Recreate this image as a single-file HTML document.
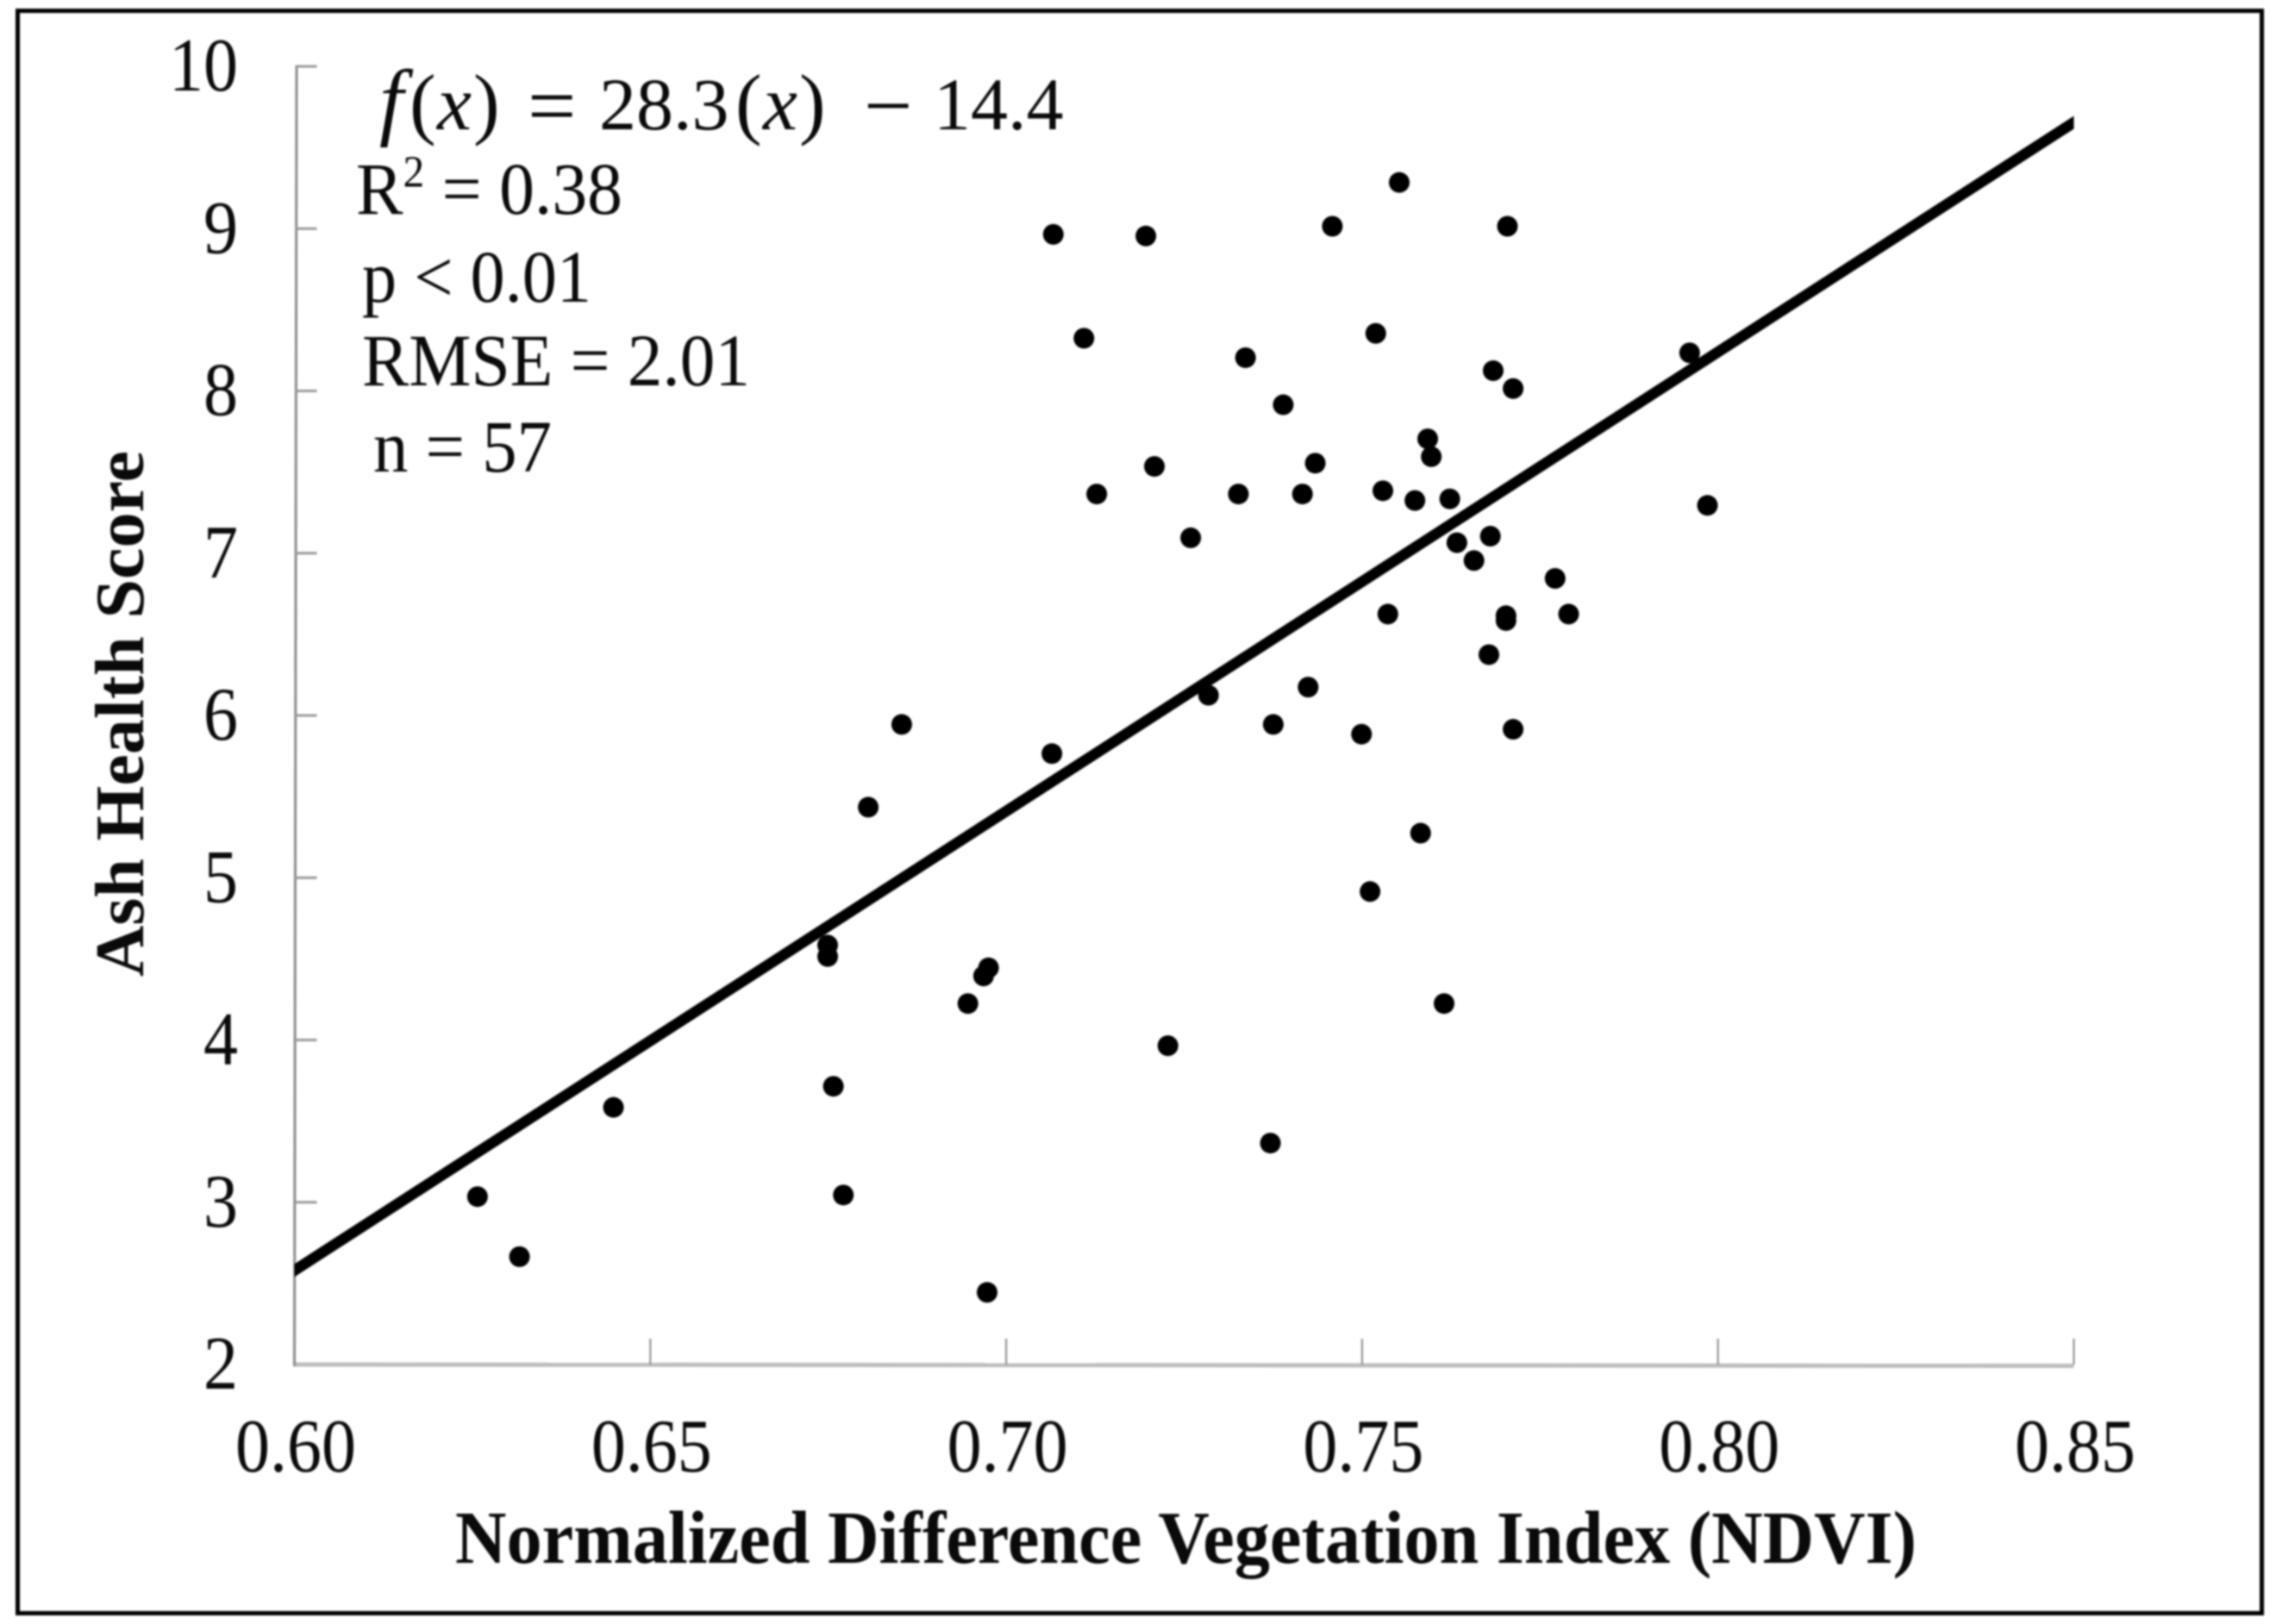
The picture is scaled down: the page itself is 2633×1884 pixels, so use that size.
<!DOCTYPE html>
<html>
<head>
<meta charset="utf-8">
<style>
html,body{margin:0;padding:0;background:#fff;}
body{width:2633px;height:1884px;overflow:hidden;}
svg{display:block;filter:blur(1px);}
text{font-family:"Liberation Serif",serif;fill:#0a0a0a;}
</style>
</head>
<body>
<svg id="chart" xmlns="http://www.w3.org/2000/svg" width="2633" height="1884" viewBox="0 0 2633 1884">
  <rect x="0" y="0" width="2633" height="1884" fill="#fff"/>
  <rect x="20.5" y="12.5" width="2603" height="1859" fill="none" stroke="#000" stroke-width="5"/>
  <g id="axes"></g>
  <g id="marks"></g>
  <g id="fit"></g>
  <g id="labels"></g>

  <text transform="translate(528,1813) scale(1,1.12)" font-size="78" font-weight="bold" textLength="1695" lengthAdjust="spacingAndGlyphs">Normalized Difference Vegetation Index (NDVI)</text>
  <text transform="translate(166,1133) rotate(-90) scale(1,1.12)" font-size="72" font-weight="bold" textLength="610" lengthAdjust="spacingAndGlyphs">Ash Health Score</text>

  <text transform="translate(0,150)" font-size="86"><tspan x="440" font-size="100" font-style="italic">f</tspan><tspan x="475" font-size="92">(</tspan><tspan x="507" font-size="90" font-style="italic">x</tspan><tspan x="549" font-size="92">)</tspan><tspan x="612" dy="6" font-size="100">=</tspan><tspan x="695" dy="-6">28.3</tspan><tspan x="853" font-size="92">(</tspan><tspan x="885" font-size="90" font-style="italic">x</tspan><tspan x="927" font-size="92">)</tspan><tspan x="1002" dy="6" font-size="100">−</tspan><tspan x="1083" dy="-6">14.4</tspan></text>
  <text transform="translate(413,248) scale(1,1.13)" font-size="76" textLength="309" lengthAdjust="spacingAndGlyphs">R<tspan font-size="46" dy="-28">2</tspan><tspan dy="28"> = 0.38</tspan></text>
  <text transform="translate(420,350) scale(1,1.13)" font-size="76" textLength="266" lengthAdjust="spacingAndGlyphs">p &lt; 0.01</text>
  <text transform="translate(420,447) scale(1,1.13)" font-size="76" textLength="450" lengthAdjust="spacingAndGlyphs">RMSE = 2.01</text>
  <text transform="translate(433,547) scale(1,1.13)" font-size="76" textLength="207" lengthAdjust="spacingAndGlyphs">n = 57</text>
</svg>
<script>
const xTickValues = [0.60, 0.65, 0.70, 0.75, 0.80, 0.85];
const xTickLabels = ["0.60", "0.65", "0.70", "0.75", "0.80", "0.85"];
const yTickValues = [2, 3, 4, 5, 6, 7, 8, 9, 10];
const yTickLabels = ["2", "3", "4", "5", "6", "7", "8", "9", "10"];
const ndviValues = [
  0.6256, 0.6315, 0.6447, 0.6748, 0.6748, 0.6756, 0.6770, 0.6805, 0.6852, 0.6945,
  0.6967, 0.6974, 0.6972, 0.7063, 0.7065, 0.7108, 0.7126, 0.7195, 0.7207, 0.7226,
  0.7258, 0.7283, 0.7325, 0.7335, 0.7370, 0.7374, 0.7388, 0.7415, 0.7423, 0.7433,
  0.7457, 0.7498, 0.7510, 0.7518, 0.7528, 0.7535, 0.7551, 0.7573, 0.7581, 0.7591,
  0.7596, 0.7614, 0.7622, 0.7632, 0.7656, 0.7677, 0.7679, 0.7683, 0.7701, 0.7701,
  0.7703, 0.7711, 0.7711, 0.7770, 0.7789, 0.7959, 0.7984
];
const healthScores = [
  3.04, 2.67, 3.59, 4.59, 4.52, 3.72, 3.05, 5.44, 5.95, 4.23,
  4.40, 4.45, 2.45, 5.77, 8.97, 8.33, 7.37, 8.96, 7.54, 3.97,
  7.10, 6.13, 7.37, 8.21, 3.37, 5.95, 7.92, 7.37, 6.18, 7.56,
  9.02, 5.89, 4.92, 8.36, 7.39, 6.63, 9.29, 7.33, 5.28, 7.71,
  7.60, 4.23, 7.34, 7.07, 6.96, 6.38, 7.11, 8.13, 6.62, 6.59,
  9.02, 8.02, 5.92, 6.85, 6.63, 8.24, 7.30
];
const trendX = [0.60, 0.85];
const trendY = [2.58, 9.655];

const NS = "http://www.w3.org/2000/svg";
function xScale(v) { return 341.5 + (v - 0.60) / 0.25 * 2064; }
function yScale(v) { return 1583 - (v - 2) * 188.25; }
function make(tag, parent, attrs) {
  const el = document.createElementNS(NS, tag);
  for (const k in attrs) el.setAttribute(k, attrs[k]);
  parent.appendChild(el);
  return el;
}

const axes = document.getElementById("axes");
const labels = document.getElementById("labels");
const marks = document.getElementById("marks");
const fit = document.getElementById("fit");

const xAxisLine = make("line", axes, {x1: xScale(0.60), x2: xScale(0.85), y1: yScale(2), y2: yScale(2) + 1.5, stroke: "#bdbdbd", "stroke-width": 5});


const yAxisLine = make("line", axes, {x1: xScale(0.60) + 2.5, x2: xScale(0.60), y1: yScale(10), y2: yScale(2) + 2, stroke: "#8a8a8a", "stroke-width": 3});



xTickValues.forEach(function (v, i) {
  const x = xScale(v);
  if (i > 0) {
    const tick = make("line", axes, {x1: x, x2: x, y1: yScale(2), y2: yScale(2) - 30, stroke: "#8a8a8a", "stroke-width": 2});
    
    
  }
  const label = make("text", labels, {transform: "translate(" + (x + 1.5) + ",1707) scale(1,1.1)", "font-size": 80, "text-anchor": "middle"});
  label.textContent = xTickLabels[i];
  
  
});

yTickValues.forEach(function (v, i) {
  const y = yScale(v);
  if (i > 0) {
    const tick = make("line", axes, {x1: xScale(0.60) + 1, x2: xScale(0.60) + 26, y1: y, y2: y, stroke: "#9a9a9a", "stroke-width": 3});
    
    
  }
  const label = make("text", labels, {transform: "translate(276," + (y + 28) + ") scale(1,1.1)", "font-size": 80, "text-anchor": "end"});
  label.textContent = yTickLabels[i];
  
  
});

ndviValues.forEach(function (v, i) {
  const dot = make("circle", marks, {cx: xScale(v) + 1, cy: yScale(healthScores[i]) + 1, r: 12, fill: "#000"});
  
  
});

const tx0 = xScale(trendX[0]), tx1 = xScale(trendX[1]);
const ty0 = yScale(trendY[0]), ty1 = yScale(trendY[1]);
const trend = make("polygon", fit, {points: tx0 + "," + (ty0 - 7.5) + " " + tx1 + "," + (ty1 - 7.5) + " " + tx1 + "," + (ty1 + 7.5) + " " + tx0 + "," + (ty0 + 7.5), fill: "#000"});


</script>
</body>
</html>
